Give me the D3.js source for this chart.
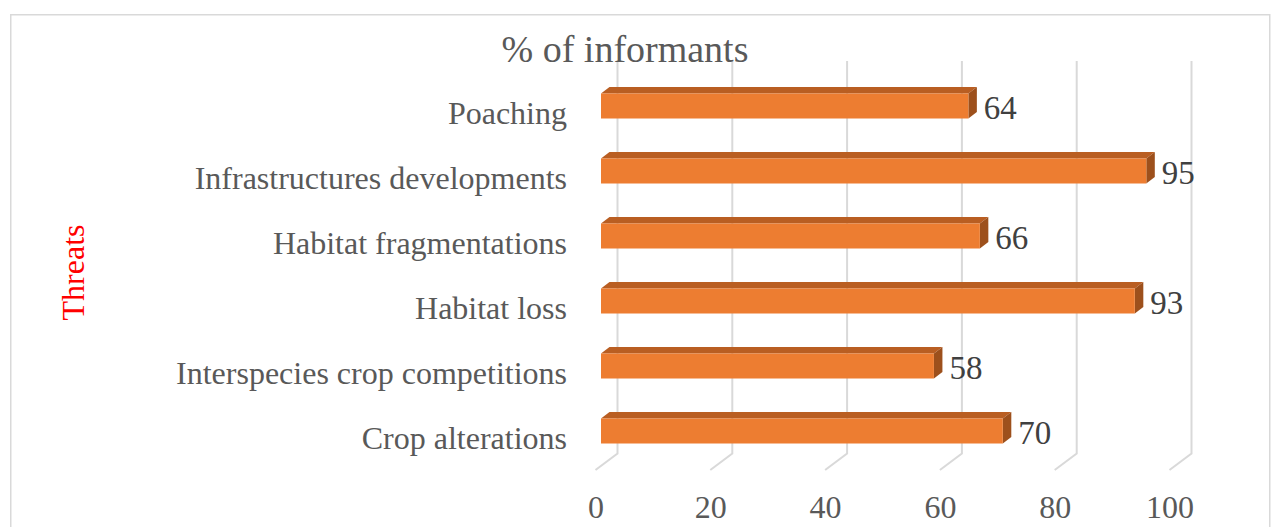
<!DOCTYPE html>
<html>
<head>
<meta charset="utf-8">
<script src="https://cdn.jsdelivr.net/npm/d3@7"></script>
<style>
  html, body { margin: 0; padding: 0; background: #fff; }
  svg { display: block; }
  text { font-family: "Liberation Serif", "Times New Roman", serif; }
</style>
</head>
<body>
<svg id="chart" width="1271" height="527"></svg>
<script>
// Threat categories, listed from top to bottom
const categories = [
  "Poaching",
  "Infrastructures developments",
  "Habitat fragmentations",
  "Habitat loss",
  "Interspecies crop competitions",
  "Crop alterations"
];
// Share of informants citing each threat (%)
const values = [64, 95, 66, 93, 58, 70];
const tickValues = [0, 20, 40, 60, 80, 100];
const chartTitle = "% of informants";
const axisTitle = "Threats";

const svg = d3.select("#chart");

// Outer chart frame
svg.append("rect")
  .attr("x", 10.75).attr("y", 14.75)
  .attr("width", 1259).attr("height", 540)
  .attr("fill", "#fff")
  .attr("stroke", "#d9d9d9").attr("stroke-width", 1.5);

// Value scale (length along the axis), shared by the three depth planes
const x = d3.scaleLinear().domain([0, 100]).range([0, 574]);
const backX = 617.5;   // back wall where gridlines stand
const barX = 601;      // front face of bars
const floorX = 596;    // front edge of floor, where tick labels sit
const gridTop = 61, gridBottom = 453.5;
const floorDx = -22, floorDy = 16.5;

// Category positions (bar centres)
const y = d3.scalePoint().domain(categories).range([106, 431]);
const barH = 25;
const depthX = 8.5, depthY = -6.5;

// Gridlines: vertical on back wall, then diagonal across the floor
svg.append("g").selectAll("path")
  .data(tickValues)
  .join("path")
  .attr("d", v => {
    const gx = backX + x(v);
    return `M${gx},${gridTop} V${gridBottom} L${gx + floorDx},${gridBottom + floorDy}`;
  })
  .attr("fill", "none")
  .attr("stroke", "#d9d9d9")
  .attr("stroke-width", 2);

// Tick labels along the floor edge
svg.append("g").selectAll("text")
  .data(tickValues)
  .join("text")
  .attr("x", v => floorX + x(v))
  .attr("y", 518)
  .attr("text-anchor", "middle")
  .attr("font-size", 32)
  .attr("fill", "#595959")
  .text(d => d);

// 3D bars
const data = categories.map((c, i) => ({ c, v: values[i] }));
const bars = svg.append("g").selectAll("g")
  .data(data)
  .join("g");

// top face
bars.append("path")
  .attr("d", d => {
    const x0 = barX + x(0), x1 = barX + x(d.v), yt = y(d.c) - barH / 2;
    return `M${x0},${yt} L${x0 + depthX},${yt + depthY} L${x1 + depthX},${yt + depthY} L${x1},${yt} Z`;
  })
  .attr("fill", "#b95e22");

// side face
bars.append("path")
  .attr("d", d => {
    const x1 = barX + x(d.v), yt = y(d.c) - barH / 2, yb = y(d.c) + barH / 2;
    return `M${x1},${yt} L${x1 + depthX},${yt + depthY} L${x1 + depthX},${yb + depthY} L${x1},${yb} Z`;
  })
  .attr("fill", "#9d501c");

// front face
bars.append("rect")
  .attr("x", barX + x(0))
  .attr("y", d => y(d.c) - barH / 2)
  .attr("width", d => x(d.v))
  .attr("height", barH)
  .attr("fill", "#ed7d31");

// Value labels
bars.append("text")
  .attr("x", d => barX + x(d.v) + depthX + 7)
  .attr("y", d => y(d.c) + 12.5)
  .attr("font-size", 33)
  .attr("fill", "#404040")
  .text(d => d.v);

// Category labels
svg.append("g").selectAll("text")
  .data(categories)
  .join("text")
  .attr("x", 567)
  .attr("y", c => y(c) + 18)
  .attr("text-anchor", "end")
  .attr("font-size", 32)
  .attr("fill", "#595959")
  .text(c => c);

// Chart title
svg.append("text")
  .attr("x", 625).attr("y", 62)
  .attr("text-anchor", "middle")
  .attr("font-size", 38)
  .attr("fill", "#595959")
  .text(chartTitle);

// Vertical axis title
svg.append("text")
  .attr("transform", "translate(84,272.5) rotate(-90)")
  .attr("text-anchor", "middle")
  .attr("font-size", 32)
  .attr("fill", "#ff0000")
  .text(axisTitle);
</script>
</body>
</html>
